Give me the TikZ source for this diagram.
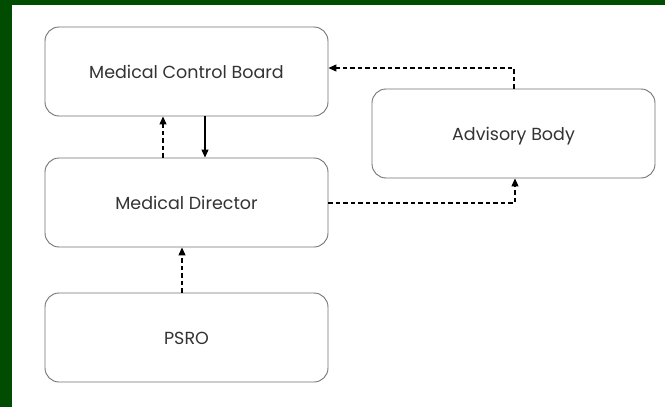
\documentclass[tikz,border=0pt]{standalone}
\usepackage{fontspec}
\setmainfont{Poppins}
\usetikzlibrary{arrows.meta}
\begin{document}
\begin{tikzpicture}[x=1pt,y=-1pt,
  box/.style={draw=black!55,line width=0.9pt,rounded corners=14pt,fill=white,minimum width=283pt,minimum height=89pt,inner sep=0pt,font=\fontsize{17.5}{20}\selectfont,text=black!80},
  lbl/.style={font=\fontsize{17.5}{20}\selectfont,text=black!80,inner sep=0pt},
  arr/.style={-{Triangle[length=8pt,width=7pt]},line width=1.1pt,black},
  darr/.style={arr,dash pattern=on 4.5pt off 3pt}]
\useasboundingbox (0,0) rectangle (665,407);
\fill[white] (0,0) rectangle (665,407);
\fill[green!30!black] (0,0) rectangle (12,407);
\fill[green!30!black] (0,0) rectangle (665,5);
\node[box] (mcb) at (186.5,71.5) {};
\node[box] (md) at (186.5,202.5) {};
\node[box] (psro) at (186.5,337.5) {};
\node[box] (ab) at (513.5,133.5) {};
\node[lbl,anchor=base] (t1) at ([yshift=-7pt]mcb.center) {Medical Control Board};
\node[lbl,anchor=base] (t2) at ([yshift=-7pt]md.center) {Medical Director};
\node[lbl,anchor=base] (t3) at ([yshift=-7pt]psro.center) {PSRO};
\node[lbl,anchor=base] (t4) at ([yshift=-7pt]ab.center) {Advisory Body};
\coordinate (x1) at (163,0);
\coordinate (x2) at (205,0);
\coordinate (x3) at (182,0);
\draw[darr] (md.north -| x1) -- (mcb.south -| x1);
\draw[arr] (mcb.south -| x2) -- (md.north -| x2);
\draw[darr] (psro.north -| x3) -- (md.south -| x3);
\coordinate (c1) at (514,68);
\coordinate (c2) at (515,203);
\draw[darr] (ab.north -| c1) |- (mcb.east |- c1);
\draw[darr] (md.east |- c2) -| (ab.south -| c2);
\end{tikzpicture}
\end{document}
